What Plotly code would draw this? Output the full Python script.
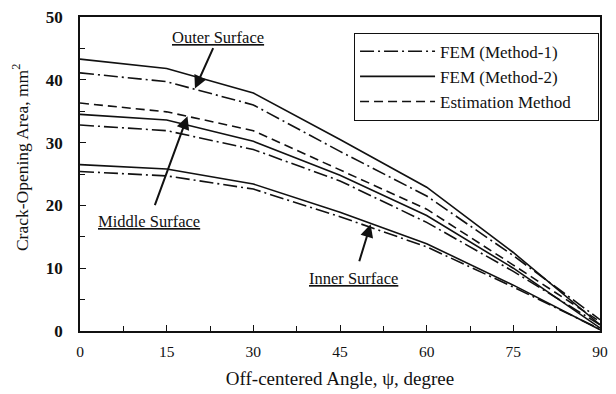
import plotly.graph_objects as go

# Off-centered angle (degree)
angles = [0, 15, 30, 45, 60, 75, 90]

# Crack-opening area (mm^2) for each surface and method
outer_fem1 = [41.1, 39.7, 36.0, 28.6, 21.5, 12.0, 1.8]
outer_fem2 = [43.3, 41.8, 37.9, 30.5, 22.9, 12.5, 1.0]
middle_fem1 = [32.8, 31.9, 28.9, 23.9, 17.3, 9.5, 1.0]
middle_fem2 = [34.5, 33.6, 30.2, 24.8, 18.4, 10.0, 0.5]
middle_est = [36.3, 34.9, 31.9, 25.7, 19.4, 10.5, 1.5]
inner_fem1 = [25.4, 24.7, 22.6, 18.2, 13.4, 7.0, 0.3]
inner_fem2 = [26.5, 25.8, 23.4, 18.9, 13.9, 7.3, 0.2]

legend_names = ["FEM (Method-1)", "FEM (Method-2)", "Estimation Method"]

FONT = "Liberation Serif, Times New Roman, serif"
INK = "#111111"
DASHDOT = "14px,4px,2px,4px"
DASHED = "9px,5px"
PAD = "\u00a0" * 5  # right-hand padding inside the legend box

fig = go.Figure()

series = [
    (outer_fem1, DASHDOT, legend_names[0], True),
    (outer_fem2, "solid", legend_names[1], True),
    (middle_est, DASHED, legend_names[2], True),
    (middle_fem1, DASHDOT, legend_names[0], False),
    (middle_fem2, "solid", legend_names[1], False),
    (inner_fem1, DASHDOT, legend_names[0], False),
    (inner_fem2, "solid", legend_names[1], False),
]
for values, dash, name, show in series:
    fig.add_trace(go.Scatter(
        x=angles, y=values, mode="lines", name=name + PAD, showlegend=show,
        line=dict(color=INK, width=1.6, dash=dash),
    ))

# Surface labels, each with an arrow pointing at its curves
labels = [
    ("Outer Surface", (23.9, 46.8), (19.9, 38.6), 0),
    ("Middle Surface", (11.9, 17.4), (18.6, 34.2), 6),
    ("Inner Surface", (47.4, 8.3), (50.3, 17.0), 7),
]
for text, pos, head, gap in labels:
    fig.add_annotation(
        x=head[0], y=head[1], ax=pos[0], ay=pos[1],
        xref="x", yref="y", axref="x", ayref="y",
        text=f"<u>{text}</u>", font=dict(family=FONT, size=16.5, color=INK),
        showarrow=True, arrowhead=2, arrowsize=1.3, arrowwidth=2,
        arrowcolor=INK, startstandoff=gap,
    )

# Y-axis title placed as a rotated label
fig.add_annotation(
    x=-0.114, y=0.553, xref="paper", yref="paper", textangle=-90,
    xanchor="center", yanchor="middle",
    text="Crack-Opening Area, mm<sup>2</sup>", showarrow=False,
    font=dict(family=FONT, size=17.5, color=INK),
)

fig.update_layout(
    width=616, height=394,
    margin=dict(l=80, r=8, t=17, b=61),
    paper_bgcolor="white", plot_bgcolor="white",
    font=dict(family=FONT, color=INK),
    legend=dict(
        x=0.527, y=0.95, xanchor="left", yanchor="top",
        bordercolor=INK, borderwidth=1, bgcolor="white",
        font=dict(family=FONT, size=17, color=INK),
        itemwidth=75, tracegroupgap=0,
    ),
)

fig.update_xaxes(
    range=[0, 90], tickvals=angles, showgrid=False, zeroline=False,
    showline=True, linecolor=INK, linewidth=1.5, mirror=True,
    ticks="inside", ticklen=6, tickcolor=INK, tickwidth=1,
    minor=dict(dtick=7.5, tick0=0, ticks="inside", ticklen=5, tickcolor=INK),
    tickfont=dict(family=FONT, size=15.5, color=INK),
    ticklabelstandoff=6,
    title=dict(text="Off-centered Angle, \u03c8, degree",
               font=dict(family=FONT, size=19, color=INK), standoff=12),
)
fig.update_yaxes(
    range=[0, 50], dtick=10, showgrid=False, zeroline=False,
    showline=True, linecolor=INK, linewidth=1.5, mirror=True,
    ticks="inside", ticklen=6, tickcolor=INK, tickwidth=1,
    minor=dict(dtick=5, ticks="inside", ticklen=5, tickcolor=INK),
    tickfont=dict(family=FONT, size=17, color=INK, weight="bold"),
    ticklabelstandoff=12,
)

fig.write_html("out.html")
